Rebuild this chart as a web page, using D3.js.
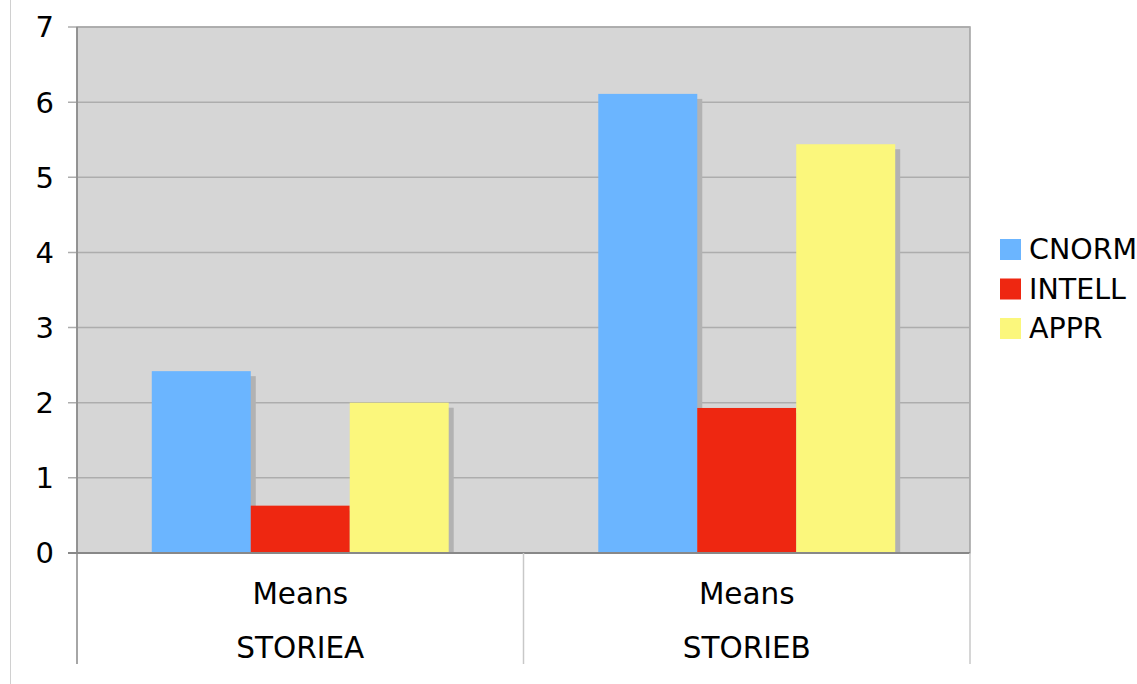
<!DOCTYPE html>
<html>
<head>
<meta charset="utf-8">
<script src="https://cdn.jsdelivr.net/npm/d3@7"></script>
<style>
  body { margin: 0; background: #fff; }
  text { font-family: "DejaVu Sans", Verdana, sans-serif; fill: #000; }
</style>
</head>
<body>
<div id="chart"></div>
<script>
// chart data
var groups = ["STORIEA", "STORIEB"];
var subLabels = ["Means", "Means"];
var seriesNames = ["CNORM", "INTELL", "APPR"];
var cnorm = [2.42, 6.11];
var intell = [0.63, 1.93];
var appr = [2.0, 5.44];
var yTicks = [0, 1, 2, 3, 4, 5, 6, 7];
var colors = ["#6bb5ff", "#ee2711", "#fbf77c"];

var svgWidth = 1137;
var svgHeight = 684;

var margin = { top: 27, right: 167, bottom: 131, left: 77 };
var width = svgWidth - margin.left - margin.right;
var height = svgHeight - margin.top - margin.bottom;

var svg = d3.select("#chart")
  .append("svg")
  .attr("width", svgWidth)
  .attr("height", svgHeight);

// faint page border on the left
svg.append("line")
  .attr("x1", 10.5).attr("x2", 10.5)
  .attr("y1", 0).attr("y2", svgHeight)
  .attr("stroke", "#d0d0d0");

var chartGroup = svg.append("g")
  .attr("transform", `translate(${margin.left}, ${margin.top})`);

// build rows from the arrays
var rows = groups.map(function(g, i) {
  return { group: g, sub: subLabels[i], values: [cnorm[i], intell[i], appr[i]] };
});

var yScale = d3.scaleLinear().domain([0, 7]).range([height, 0]);

var x0 = d3.scaleBand()
  .domain(groups)
  .range([0, width])
  .paddingInner(0.335)
  .paddingOuter(0.1675);

var x1 = d3.scaleBand()
  .domain(seriesNames)
  .range([0, x0.bandwidth()]);

// plot wall
chartGroup.append("rect")
  .attr("x", 0).attr("y", 0)
  .attr("width", width).attr("height", height)
  .attr("fill", "#d6d6d6")
  .attr("stroke", "#a0a0a0")
  .attr("stroke-width", 1.5);

// gridlines + tick marks
chartGroup.append("g")
  .selectAll("line")
  .data(yTicks)
  .enter()
  .append("line")
  .attr("x1", -9).attr("x2", width)
  .attr("y1", d => yScale(d)).attr("y2", d => yScale(d))
  .attr("stroke", "#adadad")
  .attr("stroke-width", 1.5);

// y labels
chartGroup.append("g")
  .selectAll("text")
  .data(yTicks)
  .enter()
  .append("text")
  .attr("x", -23)
  .attr("y", d => yScale(d))
  .attr("dy", "0.36em")
  .attr("text-anchor", "end")
  .style("font-size", "29px")
  .text(d => d);

var barGroups = chartGroup.selectAll(".bars")
  .data(rows)
  .enter()
  .append("g")
  .attr("transform", d => `translate(${x0(d.group)}, 0)`);

// shadows
barGroups.selectAll(".shadow")
  .data(d => d.values.map((v, i) => ({ key: seriesNames[i], value: v })))
  .enter()
  .append("rect")
  .attr("x", d => x1(d.key) + 5)
  .attr("y", d => yScale(d.value) + 5)
  .attr("width", x1.bandwidth())
  .attr("height", d => Math.max(0, height - yScale(d.value) - 5))
  .attr("fill", "#b2b2b2");

// bars
barGroups.selectAll(".bar")
  .data(d => d.values.map((v, i) => ({ key: seriesNames[i], value: v, idx: i })))
  .enter()
  .append("rect")
  .attr("x", d => x1(d.key))
  .attr("y", d => yScale(d.value))
  .attr("width", x1.bandwidth())
  .attr("height", d => height - yScale(d.value))
  .attr("fill", d => colors[d.idx]);

// left axis line and bottom axis line
chartGroup.append("line")
  .attr("x1", 0).attr("x2", 0)
  .attr("y1", 0).attr("y2", height + 111)
  .attr("stroke", "#888").attr("stroke-width", 1.5);
chartGroup.append("line")
  .attr("x1", -9).attr("x2", width)
  .attr("y1", height).attr("y2", height)
  .attr("stroke", "#888").attr("stroke-width", 2);

// category dividers under the plot
var step = x0.step();
chartGroup.append("g")
  .selectAll("line")
  .data([1, 2])
  .enter()
  .append("line")
  .attr("x1", d => d * step).attr("x2", d => d * step)
  .attr("y1", height).attr("y2", height + 111)
  .attr("stroke", "#c8c8c8").attr("stroke-width", 1.5);

// category labels
var catLabels = chartGroup.append("g")
  .selectAll("g")
  .data(rows)
  .enter()
  .append("g")
  .attr("transform", d => `translate(${x0(d.group) + x0.bandwidth() / 2}, ${height})`);

catLabels.append("text")
  .attr("y", 40)
  .attr("dy", "0.36em")
  .attr("text-anchor", "middle")
  .style("font-size", "29.5px")
  .text(d => d.sub);

catLabels.append("text")
  .attr("y", 94)
  .attr("dy", "0.36em")
  .attr("text-anchor", "middle")
  .style("font-size", "29.5px")
  .text(d => d.group);

// legend
var legend = svg.append("g")
  .attr("transform", "translate(1000, 249)");

var legendItems = legend.selectAll("g")
  .data(seriesNames)
  .enter()
  .append("g")
  .attr("transform", (d, i) => `translate(0, ${i * 39.5})`);

legendItems.append("rect")
  .attr("x", 0).attr("y", -10)
  .attr("width", 21).attr("height", 21)
  .attr("fill", (d, i) => colors[i]);

legendItems.append("text")
  .attr("x", 29)
  .attr("y", 0)
  .attr("dy", "0.36em")
  .style("font-size", "28.5px")
  .text(d => d);
</script>
</body>
</html>
